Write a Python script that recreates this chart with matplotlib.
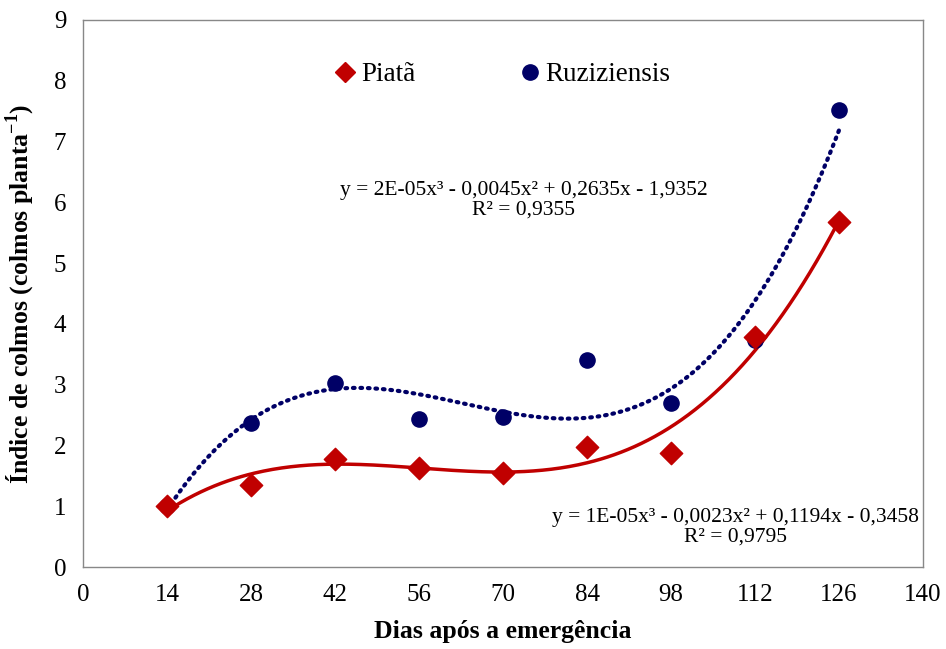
import numpy as np
import matplotlib
matplotlib.use("Agg")
import matplotlib.pyplot as plt
from matplotlib.lines import Line2D

days = [14, 28, 42, 56, 70, 84, 98, 112, 126]
piata = [1.00, 1.35, 1.78, 1.63, 1.55, 1.98, 1.88, 3.78, 5.67]
ruzi = [1.00, 2.37, 3.02, 2.43, 2.47, 3.40, 2.70, 3.73, 7.52]
xticks = [0, 14, 28, 42, 56, 70, 84, 98, 112, 126, 140]
yticks = list(range(0, 10))
eq_ruzi = "y = 2E-05x³ - 0,0045x² + 0,2635x - 1,9352\nR² = 0,9355"
eq_piata = "y = 1E-05x³ - 0,0023x² + 0,1194x - 0,3458\nR² = 0,9795"

plt.rcParams['font.family'] = ['Liberation Serif', 'DejaVu Serif']
plt.rcParams['mathtext.fontset'] = 'custom'
plt.rcParams['mathtext.rm'] = 'Liberation Serif'
plt.rcParams['mathtext.bf'] = 'Liberation Serif:bold'
red = '#C00000'
navy = '#000066'

fig = plt.figure(figsize=(9.46, 6.49), dpi=100)
ax = fig.add_axes([83/946, 1-567/649, 840/946, 547/649])

xs = np.linspace(min(days), max(days), 300)
cp = np.polyfit(days, piata, 3)
cr = np.polyfit(days, ruzi, 3)
ax.plot(xs, np.polyval(cr, xs), color=navy, lw=3, linestyle=(0, (0.4, 1.4)),
        dash_capstyle='round', zorder=2)
ax.plot(xs, np.polyval(cp, xs), color=red, lw=2.5, zorder=2)
ax.scatter(days, ruzi, marker='o', s=120, color=navy, zorder=3)
ax.scatter(days, piata, marker='D', s=130, color=red, zorder=4)

ax.set_xlim(0, 140)
ax.set_ylim(0, 9)
ax.set_xticks(xticks)
ax.set_yticks(yticks)
ax.tick_params(length=0, labelsize=18, pad=12)
for s in ax.spines.values():
    s.set_color('#888888')
    s.set_linewidth(1)

ax.set_xlabel('Dias após a emergência', fontsize=18.5, fontweight='bold', labelpad=10)
ax.set_ylabel('Índice de colmos (colmos planta$^{\\mathbf{-1}}$)', fontsize=18.5,
              fontweight='bold', labelpad=12)

handles = [Line2D([], [], marker='D', color=red, linestyle='none', markersize=10),
           Line2D([], [], marker='o', color=navy, linestyle='none', markersize=11)]
leg = ax.legend(handles, ['Piatã', 'Ruziziensis'], loc='center left', ncol=2,
                bbox_to_anchor=(0.264, 0.8995), frameon=False, fontsize=19.5,
                handletextpad=0.0, columnspacing=3.6, handlelength=1.2)

ax.text(73.5, 6.04, eq_ruzi, ha='center', va='center', fontsize=15.5, linespacing=1.05)
ax.text(108.7, 0.66, eq_piata, ha='center', va='center', fontsize=15.5, linespacing=1.05)

fig.savefig('out.png', dpi=100)
